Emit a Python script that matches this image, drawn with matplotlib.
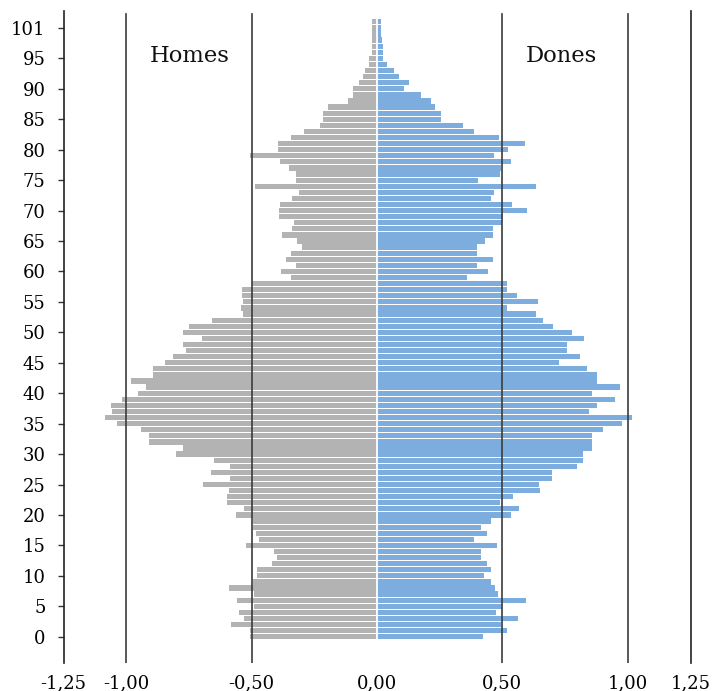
import matplotlib
matplotlib.use('Agg')
import matplotlib.pyplot as plt

ages = list(range(102))

homes = [0.508, 0.508, 0.581, 0.531, 0.551, 0.490, 0.557, 0.490, 0.591, 0.495,
         0.477, 0.477, 0.420, 0.397, 0.410, 0.521, 0.471, 0.484, 0.495, 0.495,
         0.564, 0.532, 0.597, 0.597, 0.590, 0.692, 0.588, 0.661, 0.588, 0.648,
         0.801, 0.775, 0.908, 0.908, 0.941, 1.035, 1.084, 1.055, 1.061, 1.015,
         0.951, 0.921, 0.979, 0.895, 0.895, 0.844, 0.815, 0.761, 0.772, 0.697,
         0.772, 0.750, 0.657, 0.535, 0.541, 0.535, 0.540, 0.540, 0.499, 0.344,
         0.384, 0.324, 0.364, 0.344, 0.301, 0.319, 0.377, 0.337, 0.332, 0.392,
         0.392, 0.385, 0.339, 0.311, 0.485, 0.324, 0.324, 0.350, 0.388, 0.505,
         0.395, 0.395, 0.341, 0.292, 0.228, 0.217, 0.217, 0.197, 0.115, 0.095,
         0.095, 0.070, 0.057, 0.048, 0.031, 0.031, 0.021, 0.021, 0.021, 0.021,
         0.021, 0.021]

dones = [0.421, 0.519, 0.493, 0.564, 0.473, 0.500, 0.595, 0.483, 0.472, 0.455,
         0.425, 0.456, 0.440, 0.413, 0.413, 0.480, 0.387, 0.440, 0.416, 0.455,
         0.533, 0.568, 0.489, 0.543, 0.649, 0.645, 0.696, 0.696, 0.796, 0.821,
         0.821, 0.856, 0.856, 0.856, 0.901, 0.976, 1.015, 0.845, 0.879, 0.948,
         0.859, 0.968, 0.876, 0.876, 0.839, 0.725, 0.808, 0.756, 0.756, 0.825,
         0.779, 0.703, 0.663, 0.635, 0.519, 0.640, 0.559, 0.519, 0.519, 0.360,
         0.444, 0.399, 0.461, 0.399, 0.399, 0.431, 0.461, 0.461, 0.499, 0.503,
         0.599, 0.539, 0.455, 0.465, 0.635, 0.403, 0.489, 0.495, 0.535, 0.468,
         0.523, 0.589, 0.485, 0.388, 0.341, 0.255, 0.255, 0.232, 0.215, 0.175,
         0.109, 0.129, 0.089, 0.068, 0.039, 0.025, 0.025, 0.025, 0.021, 0.015,
         0.015, 0.015]

x_ticks = [-1.25, -1.0, -0.5, 0.0, 0.5, 1.0, 1.25]
x_labels = ['-1,25', '-1,00', '-0,50', '0,00', '0,50', '1,00', '1,25']
grid_x = [-1.0, -0.5, 0.5, 1.0]
y_ticks = list(range(0, 101, 5))
y_labels = [str(v) for v in range(0, 96, 5)] + ['101']

SERIF = 'DejaVu Serif'

fig = plt.figure(figsize=(7.12, 6.91), dpi=100)
ax = fig.add_axes([63.5 / 712, 28 / 691, 627 / 712, 652 / 691])

ax.barh(ages, [-v for v in homes], height=0.86, color='#b3b3b3', linewidth=0, zorder=2)
ax.barh(ages, dones, height=0.86, color='#7dadde', linewidth=0, zorder=2)
ax.axvline(0, color='white', lw=1.3, zorder=2.5)
for g in grid_x:
    ax.axvline(g, ymax=0.995, color='#3c3c3c', lw=1.2, zorder=3)

ax.set_xlim(-1.25, 1.25)
ax.set_ylim(-4.32, 102.78)

for s in ['top', 'bottom']:
    ax.spines[s].set_visible(False)
for s in ['left', 'right']:
    ax.spines[s].set_color('#222222')
    ax.spines[s].set_linewidth(1.2)

ax.set_xticks(x_ticks)
ax.set_xticklabels(x_labels, fontsize=13, family=SERIF)
ax.tick_params(axis='x', length=0, pad=8)
ax.set_yticks(y_ticks)
ax.set_yticklabels(y_labels, fontsize=13, family=SERIF)
ax.tick_params(axis='y', direction='out', length=4, width=1, color='#333333', pad=9)

ax.text(-0.746, 94.4, 'Homes', ha='center', va='baseline', fontsize=16.3, family=SERIF, color='#111111')
ax.text(0.734, 94.4, 'Dones', ha='center', va='baseline', fontsize=16.3, family=SERIF, color='#111111')

fig.savefig('out.png', dpi=100)
